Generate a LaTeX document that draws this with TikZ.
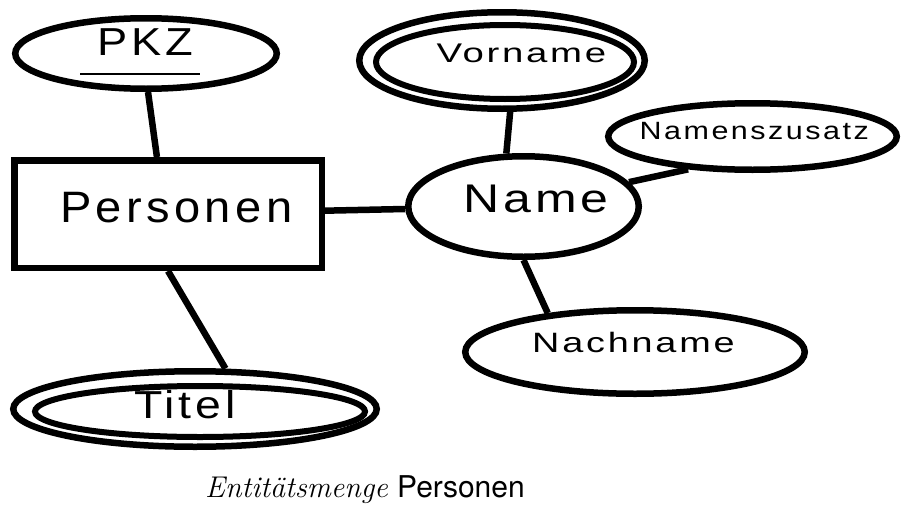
\documentclass[tikz,border=0pt]{standalone}
\usepackage{fontspec}
\usetikzlibrary{shapes.geometric}
\newfontfamily\erfont{Liberation Sans}
\newfontfamily\capsans{TeX Gyre Heros}
% #1 size, #2 horizontal stretch, #3 letter spacing (percent of em), #4 text
\newcommand\erlab[4]{{\erfont\fontsize{#1}{#1}\selectfont\addfontfeature{FakeStretch=#2,LetterSpace=#3}#4\kern-\dimexpr\fontdimen6\font*#3/100\relax}}
\tikzset{
  lw/.style={line width=6.5pt},
  entity/.style={draw, lw, rectangle, inner sep=0pt},
  attr/.style={draw, lw, ellipse, inner sep=0pt},
  attrin/.style={draw, line width=6pt, ellipse, inner sep=0pt},
  lbl/.style={anchor=base, inner sep=0pt},
  conn/.style={lw}
}
\begin{document}
\begin{tikzpicture}[x=1pt,y=-1pt]
\useasboundingbox (0,0) rectangle (902,506);
% nodes
\node[attr, minimum width=261.5pt, minimum height=70.5pt] (pkz) at (146,53.5) {};
\node[entity, minimum width=307.5pt, minimum height=107.5pt] (pers) at (168,214) {};
\node[attr, minimum width=230.5pt, minimum height=100.5pt] (name) at (523.5,206.5) {};
\node[attr, minimum width=285.5pt, minimum height=96.5pt] (vorname) at (502,60.5) {};
\node[attrin, minimum width=258pt, minimum height=74pt] (vornamein) at (505,62) {};
\node[attr, minimum width=288.5pt, minimum height=66.5pt] (nzusatz) at (752.5,136.5) {};
\node[attr, minimum width=339.5pt, minimum height=83.5pt] (nachname) at (635,352) {};
\node[attr, minimum width=363.5pt, minimum height=75.5pt] (titel) at (195,409) {};
\node[attrin, minimum width=330pt, minimum height=51pt] (titelin) at (200,411.5) {};
% labels
\node[lbl] (pkzt) at (143.5,55) {\erlab{39}{1.16}{10}{PKZ}};
\draw[line width=1.6pt] (80,74) -- (200,74);
\node[lbl] (perst) at (174,222) {\erlab{44}{1.07}{10}{Personen}};
\node[lbl] (namet) at (534,212) {\erlab{40}{1.25}{10}{Name}};
\node[lbl] (vornamet) at (520,62) {\erlab{27}{1.42}{10}{Vorname}};
\node[lbl] (nzusatzt) at (753,139) {\erlab{25}{1.22}{10}{Namenszusatz}};
\node[lbl] (nachnamet) at (632,352) {\erlab{28}{1.35}{10}{Nachname}};
\node[lbl] (titelt) at (183,418) {\erlab{39}{1.19}{10}{Titel}};
\node[lbl] (caption) at (365,497) {\fontsize{30}{30}\selectfont\textit{Entitätsmenge} {\capsans Personen}};
% connectors
\draw[conn] (pkz.-87) -- (pers.101);
\draw[conn] (pers) -- (name);
\draw[conn] (pers.south) -- (titel.53);
\draw[conn] (name.108) -- (vorname.-81);
\draw[conn] (name.13) -- (nzusatz.207);
\draw[conn] (name.-90) -- (nachname.156);
\end{tikzpicture}
\end{document}
